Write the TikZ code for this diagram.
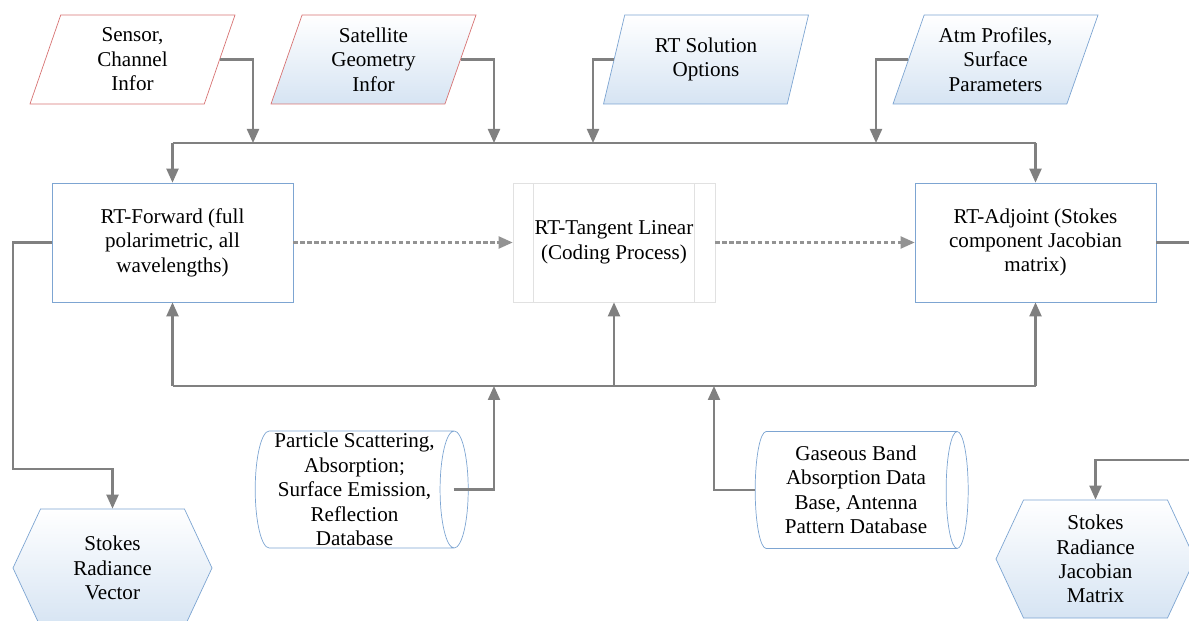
\documentclass[tikz,border=0pt]{standalone}
\usepackage{fontspec}
\setmainfont{Liberation Serif}
\usepackage{tikz}
\usetikzlibrary{shapes,shapes.geometric,shapes.symbols,arrows.meta,positioning}
\definecolor{linegray}{RGB}{128,128,128}
\definecolor{edgeblue}{RGB}{125,165,210}
\definecolor{edgered}{RGB}{215,115,115}
\definecolor{fillblue}{RGB}{214,228,243}
\definecolor{procgray}{RGB}{225,225,225}
\tikzstyle{infobox} = [trapezium, trapezium left angle=64, trapezium right angle=116, trapezium stretches body, minimum width=4.1cm, minimum height=1.78cm, inner sep=0pt, text centered]
\tikzstyle{shade} = [top color=white, bottom color=fillblue]
\tikzstyle{block} = [rectangle, draw=edgeblue, fill=white, minimum width=4.82cm, minimum height=2.38cm, text centered]
\tikzstyle{process} = [rectangle, draw=procgray, minimum width=4.04cm, minimum height=2.38cm, text centered, path picture={
    \draw[procgray] ([xshift=0.4cm]path picture bounding box.north west) -- ([xshift=0.4cm]path picture bounding box.south west);
    \draw[procgray] ([xshift=-0.42cm]path picture bounding box.north east) -- ([xshift=-0.42cm]path picture bounding box.south east);}]
\tikzstyle{database} = [cylinder, draw=edgeblue, aspect=0.25, minimum width=2.34cm, minimum height=4.26cm, inner sep=0pt, text centered]
\tikzstyle{result} = [signal, signal to=east and west, signal pointer angle=130, draw=edgeblue, shade, minimum width=3.98cm, minimum height=2.36cm, inner sep=0pt, text centered]
\tikzstyle{bus} = [draw=linegray, line width=1.2pt]
\tikzstyle{line} = [bus, -{Triangle[length=0.28cm,width=0.24cm]}]
\tikzstyle{dline} = [line, draw=linegray!85, dash pattern=on 2.5pt off 1.5pt]

\begin{document}
\begin{tikzpicture}[node distance=8.83cm,align=center,font=\rmfamily\fontsize{12}{13.9}\selectfont]
	\useasboundingbox (0,0) rectangle (23.78,-12.42);
	\node[block] at (3.45,-4.85) (fwd){RT-Forward (full \\ polarimetric, all \\ wavelengths)};
	\node[process, right of=fwd](tan){RT-Tangent Linear \\ (Coding Process)};
	\node[block, right of=tan, node distance=8.43cm](adj){RT-Adjoint (Stokes \\ component Jacobian \\ matrix)};
	\node[infobox, draw=edgered] at (2.65,-1.19) (sensor){Sensor, \\ Channel \\ Infor};
	\node[infobox, draw=edgered, shade] at (7.47,-1.19) (sat){Satellite \\ Geometry \\ Infor};
	\node[infobox, draw=edgeblue, shade] at (14.12,-1.19) (rtsol){RT Solution \\ Options};
	\node[infobox, draw=edgeblue, shade] at (19.91,-1.19) (atm){Atm Profiles, \\ Surface \\ Parameters};
	\node[database] at (7.09,-9.79) (partdb){Particle Scattering, \\ Absorption; \\ Surface Emission, \\ Reflection \\ Database};
	\node[database] at (17.12,-9.8) (gasdb){Gaseous Band \\ Absorption Data \\ Base, Antenna \\ Pattern Database};
	\node[result] at (2.25,-11.36) (svec){Stokes \\ Radiance \\ Vector};
	\node[result] at (21.91,-11.18) (sjac){Stokes \\ Radiance \\ Jacobian \\ Matrix};

	\coordinate (j1) at (5.06,-2.86);
	\coordinate (j2) at (9.88,-2.86);
	\coordinate (j3) at (11.86,-2.86);
	\coordinate (j4) at (17.52,-2.86);
	\coordinate (j5) at (9.88,-7.72);
	\coordinate (j6) at (14.28,-7.72);
	\coordinate (topl) at (fwd |- j1);
	\coordinate (topr) at (adj |- j1);
	\coordinate (botl) at (fwd |- j5);
	\coordinate (botm) at (tan |- j5);
	\coordinate (botr) at (adj |- j5);
	\coordinate (c1) at (0.26,-9.38);
	\coordinate (c2) at (23.9,-9.2);

	\path[bus]  (topl) -- (topr);
	\path[line] (topl) -- (fwd);
	\path[line] (topr) -- (adj);
	\path[line] (sensor.east) -| (j1);
	\path[line] (sat.east)    -| (j2);
	\path[line] (rtsol.west)  -| (j3);
	\path[line] (atm.west)    -| (j4);

	\path[dline] (fwd) -- (tan);
	\path[dline] (tan) -- (adj);

	\path[bus]  (botl) -- (botr);
	\path[line] (botl) -- (fwd);
	\path[line] (botm) -- (tan);
	\path[line] (botr) -- (adj);
	\path[line] ([xshift=-0.3cm]partdb.east) -| (j5);
	\path[line] (gasdb.west) -| (j6);

	\path[line] (fwd.west) -| (c1) -| (svec.north);
	\path[line] (adj.east) -| (c2) -| (sjac.north);
\end{tikzpicture}
\end{document}
